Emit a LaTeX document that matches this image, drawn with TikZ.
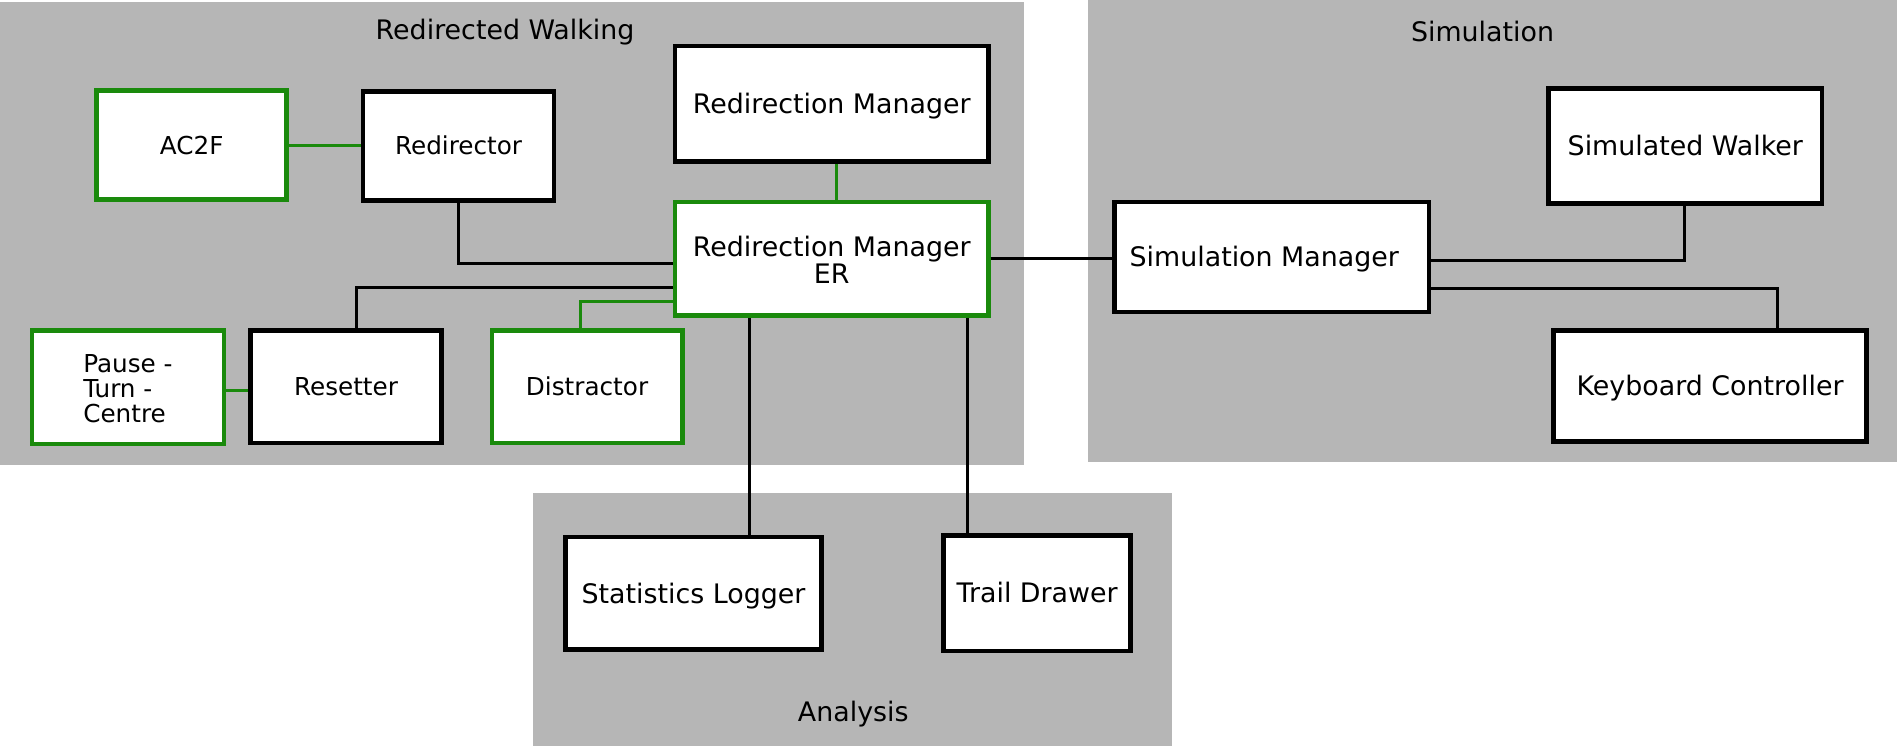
\documentclass[tikz,border=0pt]{standalone}
\usepackage{fontspec}
\setmainfont{DejaVu Sans}
\definecolor{regiongray}{RGB}{182,182,182}
\definecolor{dgreen}{RGB}{26,138,12}
\newcommand\bigf{\fontsize{11.1}{11}\selectfont}
\newcommand\smallf{\fontsize{10.2}{10.35}\selectfont}
\begin{document}
\begin{tikzpicture}[x=0.5pt,y=-0.5pt,
  region/.style={fill=regiongray},
  bx/.style={draw=black, line width=1.9pt, fill=white, inner sep=0pt, font=\bigf, text=black, text height=8.1pt, text depth=0pt},
  gbx/.style={bx, draw=dgreen},
  small/.style={font=\smallf, text height=7.45pt, text depth=0pt},
  title/.style={anchor=base, font=\bigf, inner sep=0pt},
  bline/.style={draw=black, line width=1.25pt},
  gline/.style={draw=dgreen, line width=1.25pt}]
\useasboundingbox (0,0) rectangle (1568,616.6);
% regions
\fill[region] (0,1.4) rectangle (846.4,384.4);
\fill[region] (899,0) rectangle (1568,381.6);
\fill[region] (440.2,407.3) rectangle (968.6,616.6);
\node[title] (trw) at (417.5,33) {Redirected Walking};
\node[title] (tsim) at (1225.4,34.4) {Simulation};
\node[title] (tana) at (705.3,596.5) {Analysis};
% boxes
\node[gbx, small, minimum width=78.5pt, minimum height=45pt] (ac2f) at (158.5,120) {AC2F};
\node[bx, small, minimum width=79pt, minimum height=45pt] (redir) at (379,120.5) {Redirector};
\node[bx, minimum width=129.5pt, minimum height=47.75pt] (rm) at (687.5,85.75) {Redirection Manager};
\node[gbx, align=center, text height=20.2pt, text depth=0pt, minimum width=129.5pt, minimum height=47pt] (er) at (687.5,214) {Redirection Manager\\ER};
\node[gbx, small, align=left, text height=29.4pt, text depth=0pt, minimum width=79.25pt, minimum height=47pt] (pause) at (105.75,320) {Pause -\\Turn -\\Centre};
\node[bx, small, minimum width=79pt, minimum height=46.5pt] (reset) at (286,319.5) {Resetter};
\node[gbx, small, minimum width=78.75pt, minimum height=46.5pt] (dist) at (485.25,319.5) {Distractor};
\node[bx, minimum width=130pt, minimum height=45.5pt] (sim) at (1051,212.5) {Simulation Manager\hspace*{6pt}};
\node[bx, minimum width=113pt, minimum height=47.5pt] (walk) at (1393,120.5) {Simulated Walker};
\node[bx, minimum width=129.5pt, minimum height=46pt] (kbd) at (1413.5,319) {Keyboard Controller};
\node[bx, minimum width=105.75pt, minimum height=46.5pt] (stats) at (573.25,490.5) {Statistics Logger};
\node[bx, minimum width=77.25pt, minimum height=47.75pt] (trail) at (857.25,490.25) {Trail Drawer};
% connectors
\draw[gline] (ac2f.east) -- (redir.west |- ac2f.east);
\draw[bline] (redir.south) |- (er.west |- 0,217.4);
\draw[bline] (reset.north -| 294.5,0) |- (er.west |- 0,237.5);
\draw[gline] (dist.north -| 479.7,0) |- (er.west |- 0,248.8);
\draw[gline] (pause.east |- 0,322.4) -- (reset.west |- 0,322.4);
\draw[gline] (rm.south -| 691.6,0) -- (er.north -| 691.6,0);
\draw[bline] (er.east |- 0,213.5) -- (sim.west |- 0,213.5);
\draw[bline] (sim.east |- 0,215.7) -| (walk.south -| 1392.5,0);
\draw[bline] (sim.east |- 0,238.3) -| (kbd.north -| 1469.6,0);
\draw[bline] (er.south -| 619.6,0) -- (stats.north -| 619.6,0);
\draw[bline] (er.south -| 800,0) -- (trail.north -| 800,0);
\end{tikzpicture}
\end{document}
